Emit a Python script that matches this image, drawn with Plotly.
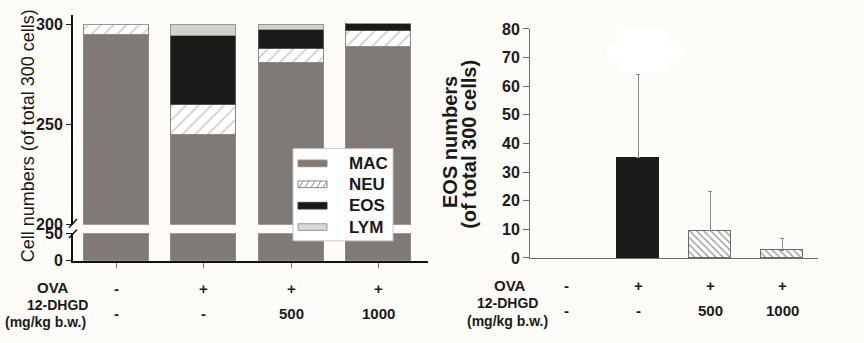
import plotly.graph_objects as go

W, H = 864, 343

# Treatment groups (bottom rows of both panels)
groups = [0, 1, 2, 3]
ova_row = ["-", "+", "+", "+"]
dose_row = ["-", "-", "500", "1000"]

# Differential cell counts per 300 cells (stacked panel)
mac = [295, 245, 281, 289]
neu = [5, 15, 7, 8]
eos = [0, 34.5, 9.5, 3.3]
lym = [0, 5.5, 2.5, 0]

# Eosinophil counts, mean and upper SD (right panel)
eos_mean = [0, 35, 9.5, 2.7]
eos_sd = [0, 29, 13.7, 4]

FONT = "Arial, Liberation Sans, sans-serif"
BG = "#fdfcf9"


def px(x):
    return x / W


def py(y):
    return 1 - y / H


layers = [
    ("MAC", mac, dict(color="#7f7a75", line=dict(color="#8e8a86", width=1))),
    ("NEU", neu, dict(color="#ffffff", line=dict(color="#8e8a86", width=1),
                      pattern=dict(shape="/", fgcolor="#8a8a8a", bgcolor="#ffffff",
                                   size=9, solidity=0.16))),
    ("EOS", eos, dict(color="#1b1a18", line=dict(color="#55524e", width=1))),
    ("LYM", lym, dict(color="#d3d1ce", line=dict(color="#9a9794", width=1))),
]

fig = go.Figure()

# Broken-axis stacked bars: upper segment (200-305) and lower segment (0-50)
for yref in ["y", "y2"]:
    for name, vals, mk in layers:
        fig.add_trace(go.Bar(x=groups, y=vals, name=name, xaxis="x", yaxis=yref,
                             width=0.745, marker=mk, showlegend=False))

# EOS panel: only the treated groups carry a bar and an upward SD whisker
shown = [i for i, m in enumerate(eos_mean) if m > 0]
fig.add_trace(go.Bar(
    x=[groups[i] for i in shown], y=[eos_mean[i] for i in shown],
    xaxis="x2", yaxis="y3", width=0.57, showlegend=False,
    marker=dict(color=["#1b1a18", "#ffffff", "#ffffff"],
                line=dict(color=["#1b1a18", "#6a6a6a", "#6a6a6a"], width=1),
                pattern=dict(shape=["", "\\", "\\"], fgcolor="#4a4a4a",
                             size=5, solidity=0.3)),
    error_y=dict(type="data", array=[eos_sd[i] for i in shown],
                 arrayminus=[0] * len(shown), symmetric=False,
                 color="#8a8a8a", thickness=1, width=2),
))

tickfont = dict(family=FONT, size=16, color="#1a1a1a", weight="bold")
black_axis = dict(showline=True, linecolor="#111111", linewidth=2, showgrid=False,
                  zeroline=False, ticks="outside", ticklen=5, tickcolor="#222",
                  tickfont=tickfont)
gray_axis = dict(showline=True, linecolor="#6e6e6e", linewidth=1, showgrid=False,
                 zeroline=False, tickfont=tickfont)

fig.update_layout(
    width=W, height=H, margin=dict(l=0, r=0, t=0, b=0),
    paper_bgcolor=BG, plot_bgcolor="rgba(0,0,0,0)",
    barmode="stack", bargap=0,
    font=dict(family=FONT, color="#1a1a1a"),
    xaxis=dict(domain=[px(73), px(428)], range=[-0.5, 3.57], anchor="y2",
               showline=True, linecolor="#111111", linewidth=2, showgrid=False,
               zeroline=False, ticks="outside", ticklen=5, tickcolor="#777",
               tickvals=groups, showticklabels=False),
    yaxis=dict(domain=[py(228), py(7)], range=[200, 305], anchor="x",
               tickvals=[200, 250, 300], **black_axis),
    yaxis2=dict(domain=[py(266), py(237)], range=[0, 50], anchor="x",
                tickvals=[0, 50], **black_axis),
    xaxis2=dict(domain=[px(530), px(818)], range=[-0.5, 3.5], anchor="y3",
                showline=True, linecolor="#6e6e6e", linewidth=1, showgrid=False,
                zeroline=False, ticks="", showticklabels=False),
    yaxis3=dict(domain=[py(263), py(22)], range=[0, 80], anchor="x2", dtick=10,
                ticks="outside", ticklen=6, tickcolor="#6e6e6e", **gray_axis),
)

shapes = []
# axis break marks
for (x0, y0, x1, y1) in [(69, 231, 77, 222), (69, 242, 77, 233)]:
    shapes.append(dict(type="line", xref="paper", yref="paper",
                       x0=px(x0), y0=py(y0), x1=px(x1), y1=py(y1),
                       line=dict(color="#111", width=1.5)))

# masked label area above OVA bar in EOS panel
shapes.append(dict(type="rect", xref="paper", yref="paper", layer="below",
                   x0=px(620), x1=px(666), y0=py(67), y1=py(20),
                   fillcolor="#ffffff", line=dict(width=0)))
shapes.append(dict(type="rect", xref="paper", yref="paper", layer="below",
                   x0=px(607), x1=px(682), y0=py(52), y1=py(37),
                   fillcolor="#ffffff", line=dict(width=0)))

# legend box
shapes.append(dict(type="rect", xref="paper", yref="paper",
                   x0=px(293), x1=px(393), y0=py(245), y1=py(148),
                   fillcolor="#ffffff", line=dict(color="#c8c8c8", width=1)))
legend_rows = [163.5, 185.5, 208, 230.5]
swatch = [("#7f7a75", "#8e8a86"), ("#ffffff", "#8e8a86"),
          ("#1b1a18", "#333"), ("#d9d7d4", "#9a9794")]
for (name, _, _), yc, (fc, lc) in zip(layers, legend_rows, swatch):
    shapes.append(dict(type="rect", xref="paper", yref="paper",
                       x0=px(298), x1=px(327), y0=py(yc + 3.5), y1=py(yc - 3.5),
                       fillcolor=fc, line=dict(color=lc, width=1)))
    if name == "NEU":
        path = ""
        for xs in [299, 305, 311, 317, 323]:
            path += f"M{px(xs)},{py(yc + 3.5)} L{px(xs + 4)},{py(yc - 3.5)} "
        shapes.append(dict(type="path", xref="paper", yref="paper", path=path,
                           line=dict(color="#8a8a8a", width=1)))

fig.update_layout(shapes=shapes)

ann = []


def label(text, x, y, xref="paper", size=15, bold=True, angle=0, xanchor="center"):
    ann.append(dict(text=text, x=x, y=y, xref=xref, yref="paper",
                    xanchor=xanchor, yanchor="middle", textangle=angle,
                    showarrow=False,
                    font=dict(size=size, weight="bold" if bold else "normal")))


for (name, _, _), yc in zip(layers, legend_rows):
    label(name, px(347), py(yc), size=17, xanchor="left")

# axis titles
label("Cell numbers (of total 300 cells)", px(28), py(135), size=18, bold=False,
      angle=-90)
label("EOS numbers", px(450), py(141), size=20, angle=-90)
label("(of total 300 cells)", px(469), py(144), size=20, angle=-90)

# treatment table under each panel
for xref, ova_y, dose_y, lab_x, lab_ys in [
    ("x", 295, 321, (53, 57, 45), (294, 312, 330)),
    ("x2", 292, 318, (510, 507, 507), (292, 310, 329)),
]:
    for g, o, d in zip(groups, ova_row, dose_row):
        label(o, g, py(ova_y), xref=xref)
        label(d, g, py(dose_y), xref=xref)
    for t, lx, ly, sz in zip(["OVA", "12-DHGD", "(mg/kg b.w.)"], lab_x, lab_ys,
                             [15, 14, 14]):
        label(t, px(lx), py(ly), size=sz)

fig.update_layout(annotations=ann)
fig.write_html("out.html")
